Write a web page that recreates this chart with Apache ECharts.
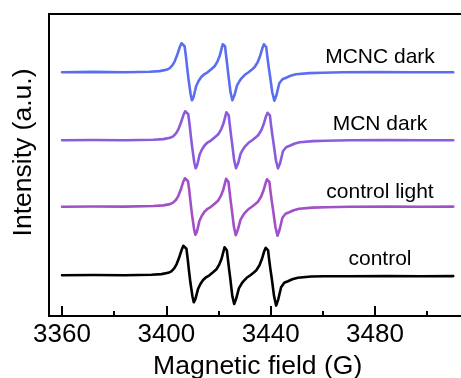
<!DOCTYPE html>
<html>
<head>
<meta charset="utf-8">
<script src="https://cdn.jsdelivr.net/npm/echarts@6/dist/echarts.min.js"></script>
<style>html,body{margin:0;padding:0;background:#fff}#c{width:461px;height:378px}</style>
</head>
<body>
<div id="c"></div>
<script>
// ---- data (x: magnetic field in G, y: signal relative to each trace's baseline) ----
const seriesNames = ['control', 'control light', 'MCN dark', 'MCNC dark'];
const baselines = [40.7, 109.2, 175.7, 243.7];
const majorTicks = [3360, 3400, 3440, 3480];
const minorTicks = [3380, 3420, 3460, 3500];
const labelX = [3481.9, 3481.9, 3481.9, 3481.9];
const labelY = [57, 123.5, 191.5, 259];

const control = [[3360,0],[3372,0.3],[3384,0],[3394.3,0.6],[3398.1,1.2],[3400.7,2.5],[3401.9,4],[3403.0,7],[3403.9,11],[3404.8,17],[3405.8,25],[3406.5,29.5],[3407.2,30.7],[3407.7,26.5],[3408.2,16],[3408.7,4],[3409.2,-7],[3410.0,-21],[3410.5,-27],[3411.1,-24],[3412.1,-14],[3413.0,-9],[3414.0,-5],[3415.2,-2],[3416.5,0],[3417.9,3],[3419.2,6],[3420.3,11],[3421.1,16],[3421.9,24],[3422.3,28],[3422.8,29.7],[3423.2,25],[3423.6,16],[3424.1,5],[3424.5,-3],[3425.3,-21],[3426.0,-28.7],[3426.8,-23],[3427.8,-13],[3428.7,-9],[3429.5,-6],[3430.8,-2.5],[3432.2,0],[3433.4,2.5],[3434.5,5],[3435.7,10],[3436.6,16],[3437.5,24],[3438.1,27.5],[3438.6,28.7],[3439.0,25],[3439.4,16],[3439.9,6],[3440.4,-3],[3441.3,-21],[3442.1,-30.3],[3442.9,-24],[3444.0,-12],[3445.2,-7.5],[3446.6,-6],[3448.3,-4],[3450.4,-2.5],[3455.5,-1.2],[3460.5,-1],[3470,-1],[3485,-0.8],[3498,-1],[3510,-0.8]];

const controlLight = [[3360,0],[3372,0.3],[3384,0.2],[3395,0.8],[3398.8,1.4],[3401.4,2.7],[3402.6,4.2],[3403.7,7],[3404.6,11],[3405.5,17],[3406.4,24.5],[3407.1,28.5],[3407.8,29.5],[3408.3,25.5],[3408.8,16],[3409.3,4],[3409.8,-7],[3410.6,-22],[3411.1,-28],[3411.7,-25],[3412.7,-14],[3413.6,-9],[3414.6,-5],[3415.8,-2],[3417.1,0],[3418.5,3],[3419.8,6],[3420.9,11],[3421.7,16],[3422.5,24],[3422.9,28],[3423.4,29.5],[3423.8,25],[3424.2,16],[3424.7,5],[3425.1,-3],[3425.9,-20],[3426.6,-28.5],[3427.4,-23],[3428.4,-13],[3429.3,-9],[3430.1,-6],[3431.4,-2.5],[3432.8,0],[3434.0,2.5],[3435.1,5],[3436.3,10],[3437.2,16],[3438.1,24],[3438.6,27.5],[3439.1,29],[3439.5,25],[3439.9,16],[3440.4,6],[3440.9,-3],[3441.8,-20],[3442.6,-29],[3443.4,-23],[3444.5,-11],[3445.7,-7],[3447.1,-5.5],[3448.8,-3.5],[3450.9,-2],[3456.0,-0.8],[3461.0,-0.4],[3470,0],[3485,0.2],[3498,0],[3510,0.2]];

const mcnDark = [[3360,0],[3372,0.3],[3384,0],[3395,0.6],[3398.8,1.2],[3401.4,2.5],[3402.6,4],[3403.7,7],[3404.6,11],[3405.5,17],[3406.5,25],[3407.2,29],[3407.9,30],[3408.4,26],[3408.9,16],[3409.4,4],[3409.9,-7],[3410.7,-22],[3411.2,-28],[3411.8,-25],[3412.8,-14],[3413.7,-9],[3414.7,-5],[3415.9,-2],[3417.2,0],[3418.6,3],[3419.9,6],[3421.0,11],[3421.8,16],[3422.6,24],[3423.0,28],[3423.5,29],[3423.9,25],[3424.3,16],[3424.8,5],[3425.2,-3],[3426.0,-20],[3426.7,-28],[3427.5,-23],[3428.5,-13],[3429.4,-9],[3430.2,-6],[3431.5,-2.5],[3432.9,0],[3434.1,2.5],[3435.2,5],[3436.4,10],[3437.3,16],[3438.2,24],[3438.8,27.5],[3439.3,29],[3439.7,25],[3440.1,16],[3440.6,6],[3441.1,-3],[3442.0,-20],[3442.8,-28],[3443.6,-23],[3444.7,-11],[3445.9,-7],[3447.3,-5.5],[3449.0,-3.5],[3451.1,-2],[3456.2,-0.8],[3461.2,-0.4],[3470,0],[3485,0.2],[3498,0],[3510,0]];

const mcncDark = [[3360,0],[3372,0.4],[3384,0],[3393.6,0.6],[3397.4,1.2],[3400.0,2.5],[3401.2,4],[3402.3,7],[3403.2,11],[3404.1,17],[3405.1,25],[3405.8,29],[3406.5,30],[3407.0,26],[3407.5,16],[3408.0,4],[3408.5,-7],[3409.3,-22],[3409.8,-28],[3410.4,-25],[3411.4,-14],[3412.3,-9],[3413.3,-5],[3414.5,-2],[3415.8,0],[3417.2,3],[3418.5,6],[3419.6,11],[3420.4,16],[3421.2,24],[3421.6,28],[3422.1,30],[3422.5,26],[3422.9,17],[3423.4,6],[3423.8,-3],[3424.6,-20],[3425.3,-28],[3426.1,-23],[3427.1,-13],[3428.0,-9],[3428.8,-6],[3430.1,-2.5],[3431.5,0],[3432.7,2.5],[3433.8,5],[3435.0,10],[3435.9,16],[3436.8,24],[3437.4,28],[3437.9,29.5],[3438.3,25],[3438.7,16],[3439.2,6],[3439.7,-3],[3440.6,-20],[3441.4,-28.5],[3442.2,-23],[3443.3,-11],[3444.5,-7],[3445.9,-5.5],[3447.6,-3.5],[3449.7,-2],[3454.8,-0.8],[3459.8,-0.4],[3468,0],[3480,0.2],[3495,0],[3510,0]];

const traces = [control, controlLight, mcnDark, mcncDark];
const colors = ['#000000', '#a24fc8', '#8a5cdc', '#5b6ef0'];

const FONT = '"Liberation Sans", Arial, sans-serif';
const chart = echarts.init(document.getElementById('c'), null, {renderer: 'canvas'});

const lineSeries = traces.map((t, i) => ({
  name: seriesNames[i],
  type: 'line',
  xAxisIndex: 0,
  showSymbol: false,
  symbol: 'none',
  animation: false,
  lineStyle: {width: 2.6, color: colors[i], join: 'round', cap: 'round'},
  data: t.map(p => [p[0], baselines[i] + p[1]])
}));

const labelSeries = {
  type: 'scatter',
  xAxisIndex: 0,
  symbolSize: 0,
  animation: false,
  silent: true,
  itemStyle: {opacity: 1},
  label: {
    show: true, position: 'inside', formatter: p => p.name, opacity: 1,
    color: '#000', fontSize: 21, fontFamily: FONT, textBorderWidth: 0
  },
  data: seriesNames.map((n, i) => ({name: n, value: [labelX[i], labelY[i]]}))
};

chart.setOption({
  animation: false,
  backgroundColor: '#fff',
  grid: {left: 49, top: 14, right: -5.3, bottom: 62, containLabel: false, outerBoundsMode: 'none',
         show: true, borderColor: '#000', borderWidth: 2, backgroundColor: 'transparent'},
  xAxis: [{
    type: 'value', min: 3355, max: 3515, position: 'bottom',
    name: 'Magnetic field (G)', nameLocation: 'middle', nameGap: 31,
    nameTextStyle: {fontSize: 26.5, fontFamily: FONT, color: '#000'},
    axisLine: {show: true, lineStyle: {color: '#000', width: 2}},
    axisTick: {show: true, inside: true, length: 10, customValues: majorTicks, lineStyle: {color: '#000', width: 2}},
    axisLabel: {show: true, customValues: majorTicks, margin: 6, fontSize: 26, fontFamily: FONT, color: '#000', formatter: v => String(v)},
    splitLine: {show: false}
  }, {
    type: 'value', min: 3355, max: 3515, position: 'bottom', offset: 0,
    axisLine: {show: false},
    axisTick: {show: true, inside: true, length: 5, customValues: minorTicks, lineStyle: {color: '#000', width: 2}},
    axisLabel: {show: false},
    splitLine: {show: false}
  }],
  yAxis: {
    type: 'value', min: 0, max: 302,
    name: 'Intensity (a.u.)', nameLocation: 'middle', nameGap: 12, nameRotate: 90,
    nameTextStyle: {fontSize: 26.5, fontFamily: FONT, color: '#000', padding: [0, 0, 0, 25]},
    axisLine: {show: true, lineStyle: {color: '#000', width: 2}},
    axisTick: {show: false}, axisLabel: {show: false}, splitLine: {show: false}
  },
  series: lineSeries.concat([labelSeries])
});
</script>
</body>
</html>
